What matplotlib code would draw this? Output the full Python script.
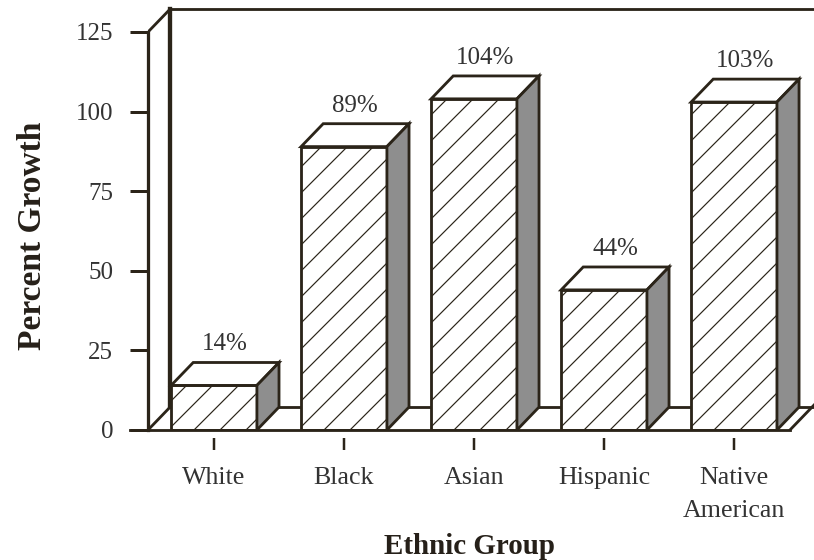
import matplotlib
matplotlib.use("Agg")
import matplotlib.pyplot as plt
from matplotlib.patches import Polygon

# data
groups = ["White", "Black", "Asian", "Hispanic", "Native\nAmerican"]
growth = [14, 89, 104, 44, 103]          # bar heights
labels = ["14%", "89%", "104%", "44%", "103%"]
yticks = [0, 25, 50, 75, 100, 125]

DPI = 78                                  # hatch spacing scales with dpi
plt.rcParams["font.family"] = ["Liberation Serif", "DejaVu Serif"]
plt.rcParams["hatch.linewidth"] = 1.1
ink = "#2b2419"
side_gray = "#8e8e8e"


def pt(px):
    return px * 72.0 / DPI


fig = plt.figure(figsize=(814 / DPI, 560 / DPI), dpi=DPI)
ax = fig.add_axes([148 / 814, 130 / 560, (814 - 148) / 814, 430 / 560])
ax.set_xlim(-0.5077, 4.615)
ax.set_ylim(0, 135.05)

dx, dy = 0.17, 7.2        # depth of the 3-D look
bw = 0.66
xl = -0.5077              # front left edge of the frame
xr = 4.43                 # front right end of the floor
lw = 2.6

# back wall and floor
ax.plot([xl + dx, xl + dx], [dy, 125 + dy], color=ink, lw=4, zorder=1)
ax.plot([xl + dx, 5.0], [125 + dy, 125 + dy], color=ink, lw=lw, zorder=1, clip_on=False)
ax.plot([xl, xl + dx], [125, 125 + dy], color=ink, lw=lw, zorder=1)
ax.plot([xl, xl + dx], [0, dy], color=ink, lw=lw, zorder=1)
ax.plot([xl + dx, 5.0], [dy, dy], color=ink, lw=lw, zorder=1)
ax.plot([xr, xr + 2 * dx], [0, 2 * dy], color=ink, lw=lw, zorder=1)
ax.plot([-0.646, xr], [0, 0], color=ink, lw=lw, zorder=6, clip_on=False)

# bars
for i, v in enumerate(growth):
    x0, x1 = i - bw / 2, i + bw / 2
    ax.bar(i, v, width=bw, facecolor="white", edgecolor=ink, hatch="/",
           linewidth=lw, zorder=3)
    top = Polygon([(x0, v), (x1, v), (x1 + dx, v + dy), (x0 + dx, v + dy)],
                  closed=True, facecolor="white", edgecolor=ink, lw=lw,
                  joinstyle="miter", zorder=3)
    side = Polygon([(x1, 0), (x1 + dx, dy), (x1 + dx, v + dy), (x1, v)],
                   closed=True, facecolor=side_gray, edgecolor=ink, lw=lw,
                   joinstyle="miter", zorder=3)
    ax.add_patch(top)
    ax.add_patch(side)
    ax.text(i + dx / 2, v + dy + 2.2, labels[i], ha="center", va="bottom",
            fontsize=pt(25), color="#333333")

# axes
for s in ["top", "right"]:
    ax.spines[s].set_visible(False)
ax.spines["left"].set_bounds(0, 125)
ax.spines["left"].set_linewidth(3)
ax.spines["left"].set_color(ink)
ax.spines["left"].set_zorder(5)
ax.spines["bottom"].set_position(("outward", pt(8)))
ax.spines["bottom"].set_visible(False)

ax.set_yticks(yticks)
ax.set_yticklabels([str(t) for t in yticks])
ax.tick_params(axis="y", direction="out", length=pt(18), width=pt(3),
               color=ink, pad=pt(17), labelsize=pt(25), labelcolor="#333333")
ax.set_xticks(range(len(groups)))
ax.set_xticklabels(groups, linespacing=1.65)
ax.tick_params(axis="x", direction="out", length=pt(12), width=pt(2.5),
               color=ink, pad=pt(17), labelsize=pt(26), labelcolor="#333333")

fig.text(470 / 814, 1 - 546 / 560, "Ethnic Group", ha="center", va="center",
         fontsize=pt(29), fontweight="bold", color="#262019")
fig.text(33 / 814, 1 - 236 / 560, "Percent Growth", ha="center", va="center",
         rotation=90, fontsize=pt(33.5), fontweight="bold", color="#262019")

fig.savefig("out.png", dpi=DPI, facecolor="white")
